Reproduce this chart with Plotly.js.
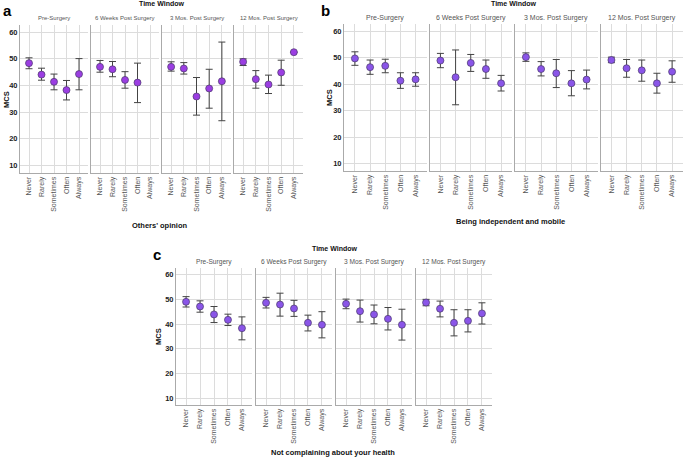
<!DOCTYPE html>
<html>
<head>
<meta charset="utf-8">
<script src="https://cdn.plot.ly/plotly-3.0.1.min.js"></script>
<style>html,body{margin:0;padding:0;background:#fff;}#chart{width:685px;height:457px;}</style>
</head>
<body>
<div id="chart"></div>
<script>
const categories = ["Never", "Rarely", "Sometimes", "Often", "Always"];
const timeWindows = ["Pre-Surgery", "6 Weeks Post Surgery", "3 Mos. Post Surgery", "12 Mos. Post Surgery"];
const panelLetters = ["a", "b", "c"];
const panelXTitles = ["Others' opinion", "Being independent and mobile", "Not complaining about your health"];

// Panel a: Others' opinion  (mean, upper CI, lower CI) per time window
const aMean  = [[48.4, 44.1, 41.4, 38.3, 44.3], [47.0, 46.1, 42.1, 41.1, null], [47.0, 46.4, 35.9, 38.9, 41.6], [48.9, 42.4, 40.4, 44.9, 52.5]];
const aUpper = [[50.4, 46.5, 44.3, 41.9, 50.1], [49.4, 49.0, 45.2, 48.4, null], [48.9, 48.6, 43.0, 46.1, 56.3], [50.0, 45.6, 43.9, 49.5, null]];
const aLower = [[46.3, 42.0, 38.4, 34.6, 38.4], [45.0, 43.3, 39.0, 33.6, null], [45.4, 44.3, 28.9, 31.5, 26.8], [47.5, 39.0, 37.0, 40.1, null]];

// Panel b: Being independent and mobile
const bMean  = [[49.7, 46.4, 46.9, 41.3, 41.8], [48.9, 42.6, 48.0, 45.7, 40.3], [50.2, 45.7, 44.1, 40.3, 41.7], [49.1, 46.0, 45.2, 40.3, 44.7]];
const bUpper = [[52.2, 49.1, 49.4, 44.3, 44.3], [51.6, 52.9, 51.2, 49.1, 43.3], [51.8, 48.5, 49.3, 45.1, 45.3], [50.2, 49.3, 49.1, 44.1, 48.8]];
const bLower = [[47.1, 43.7, 44.3, 38.4, 39.2], [46.2, 32.2, 44.8, 42.2, 37.4], [48.6, 43.1, 38.7, 35.6, 38.2], [48.1, 42.6, 41.1, 36.6, 40.7]];

// Panel c: Not complaining about your health
const cMean  = [[49.0, 47.1, 43.9, 41.7, 38.3], [48.6, 47.9, 46.3, 40.5, 39.7], [48.2, 45.2, 43.9, 42.1, 39.7], [48.7, 46.2, 40.5, 41.3, 44.3]];
const cUpper = [[51.1, 49.4, 47.1, 44.0, 42.9], [50.8, 52.5, 49.6, 43.6, 45.0], [50.1, 49.7, 47.7, 46.7, 46.0], [50.0, 49.3, 45.8, 45.8, 48.6]];
const cLower = [[46.9, 44.8, 40.6, 39.4, 33.6], [46.5, 43.2, 43.1, 37.2, 34.4], [46.2, 40.8, 40.1, 37.6, 33.5], [47.4, 42.9, 35.2, 36.8, 40.0]];

const yTicks = [10, 20, 30, 40, 50, 60];

const panels = [
  {mean: aMean, upper: aUpper, lower: aLower, color: "#9b3ee2",
   xs: [[20, 88], [91, 159], [162, 231], [234, 303]], top: 25, bottom: 173,
   letter: [8, 10], tw: [161, 4], ft: 18, ftSize: 6.0, xt: [160, 225], mcs: [6, 100]},
  {mean: bMean, upper: bUpper, lower: bLower, color: "#8a55e8",
   xs: [[344, 426.5], [429.5, 512], [515, 597.5], [600.5, 683]], top: 24, bottom: 171,
   letter: [325, 10], tw: [513, 4], ft: 18, ftSize: 7.0, xt: [510, 221], mcs: [330, 98]},
  {mean: cMean, upper: cUpper, lower: cLower, color: "#8a55e8",
   xs: [[176, 252], [256, 332], [336, 412], [416, 492]], top: 268, bottom: 405,
   letter: [157, 254], tw: [334, 248], ft: 262, ftSize: 6.6, xt: [333, 452], mcs: [158, 337]}
];

const W = 685, H = 457;
const FONT = "Liberation Sans, Arial, sans-serif";
const traces = [];
const layout = {
  width: W, height: H,
  margin: {l: 0, r: 0, t: 0, b: 0},
  paper_bgcolor: "#ffffff", plot_bgcolor: "#ffffff",
  showlegend: false,
  font: {family: FONT, size: 8, color: "#333"},
  annotations: []
};

panels.forEach((p, pi) => {
  p.xs.forEach((xr, fi) => {
    const idx = pi * 4 + fi + 1;
    const xn = "x" + (idx === 1 ? "" : idx), yn = "y" + (idx === 1 ? "" : idx);
    const mean = p.mean[fi], up = p.upper[fi], lo = p.lower[fi];
    traces.push({
      type: "scatter", mode: "markers",
      x: categories, y: mean,
      xaxis: xn, yaxis: yn,
      marker: {size: 7, color: p.color, line: {color: "#4a3a6a", width: 0.7}},
      error_y: {
        type: "data", symmetric: false,
        array: mean.map((m, i) => (m == null || up[i] == null) ? null : up[i] - m),
        arrayminus: mean.map((m, i) => (m == null || lo[i] == null) ? null : m - lo[i]),
        color: "#444", thickness: 1, width: 3.5
      },
      hoverinfo: "x+y"
    });
    const xa = "xaxis" + (idx === 1 ? "" : idx), ya = "yaxis" + (idx === 1 ? "" : idx);
    layout[xa] = {
      domain: [xr[0] / W, xr[1] / W], anchor: yn,
      type: "category", categoryorder: "array", categoryarray: categories,
      range: [-0.72, 4.72],
      showgrid: true, gridcolor: "#dcdcdc", gridwidth: 1,
      showline: true, linecolor: "#aaaaaa", linewidth: 1,
      ticks: "", tickangle: -90,
      tickfont: {family: FONT, size: 7, color: "#555"},
      zeroline: false, fixedrange: true
    };
    layout[ya] = {
      domain: [1 - p.bottom / H, 1 - p.top / H], anchor: xn,
      range: [7.2, 62.7], tickvals: yTicks,
      showticklabels: fi === 0,
      tickfont: {family: FONT, size: 7.5, color: "#222", weight: "bold"},
      showgrid: true, gridcolor: "#dcdcdc", gridwidth: 1,
      showline: true, linecolor: "#aaaaaa", linewidth: 1,
      ticks: "", zeroline: false, fixedrange: true
    };
    layout.annotations.push({
      text: timeWindows[fi], xref: "paper", yref: "paper",
      x: (xr[0] + xr[1]) / 2 / W, y: 1 - p.ft / H,
      xanchor: "center", yanchor: "middle", showarrow: false,
      font: {family: FONT, size: p.ftSize, color: "#555"}
    });
  });
  layout.annotations.push({
    text: "<b>" + panelLetters[pi] + "</b>", xref: "paper", yref: "paper",
    x: p.letter[0] / W, y: 1 - p.letter[1] / H, xanchor: "center", yanchor: "middle",
    showarrow: false, font: {family: FONT, size: 15, color: "#000"}
  });
  layout.annotations.push({
    text: "<b>Time Window</b>", xref: "paper", yref: "paper",
    x: p.tw[0] / W, y: 1 - p.tw[1] / H, xanchor: "center", yanchor: "middle",
    showarrow: false, font: {family: FONT, size: 7, color: "#111"}
  });
  layout.annotations.push({
    text: "<b>" + panelXTitles[pi] + "</b>", xref: "paper", yref: "paper",
    x: p.xt[0] / W, y: 1 - p.xt[1] / H, xanchor: "center", yanchor: "middle",
    showarrow: false, font: {family: FONT, size: 7.5, color: "#111"}
  });
  layout.annotations.push({
    text: "<b>MCS</b>", xref: "paper", yref: "paper", textangle: -90,
    x: p.mcs[0] / W, y: 1 - p.mcs[1] / H, xanchor: "center", yanchor: "middle",
    showarrow: false, font: {family: FONT, size: 7.5, color: "#111"}
  });
});

Plotly.newPlot("chart", traces, layout, {displayModeBar: false, staticPlot: true});
</script>
</body>
</html>
